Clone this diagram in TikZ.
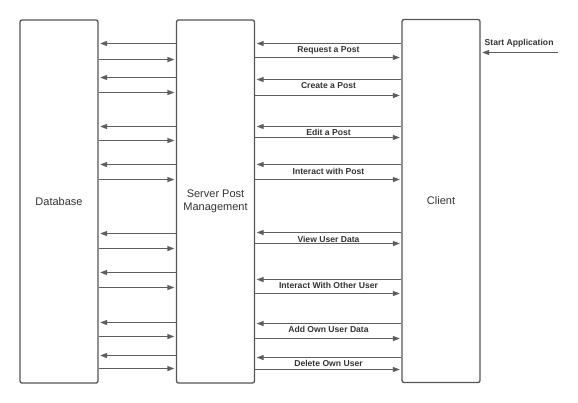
\documentclass[tikz,border=0pt]{standalone}
\usepackage{fontspec}
\setmainfont{Liberation Sans}
\usetikzlibrary{arrows.meta}
\definecolor{linec}{HTML}{5E5E5E}
\definecolor{boxc}{HTML}{555555}
\definecolor{txtc}{HTML}{333333}
\begin{document}
\begin{tikzpicture}[x=1pt,y=-1pt,
  lane/.style={draw=boxc,line width=1.3pt,rounded corners=2pt,minimum width=78pt,minimum height=363pt,inner sep=0pt,text=txtc,font=\fontsize{11}{13}\selectfont,align=center},
  arr/.style={draw=linec,line width=1.3pt,-{Triangle[length=7pt,width=5pt]},shorten >=1.5pt},
  lbl/.style={font=\bfseries\fontsize{8.6}{10}\selectfont,text=txtc,inner sep=0pt}]
\useasboundingbox (0,0) rectangle (578,402);
\node[lane] (db) at (59,201.5) {Database};
\node[lane] (srv) at (215.5,201.5) {Server Post\\Management};
\node[lane] (cl) at (441,201) {Client};
% DB <-> Server
\foreach \ya/\yb in {43.5/59.5,77.5/92.5,126.5/140.5,164.5/179.5,233.5/248.5,272.5/287.5,322.5/336.5,355.5/368.5}{
  \draw[arr] (srv.west |- 0,\ya) -- (db.east |- 0,\ya);
  \draw[arr] (db.east |- 0,\yb) -- (srv.west |- 0,\yb);
}
% Server <-> Client
\foreach \ya/\yb in {43.5/57.5,79.5/95.5,126.5/137.5,164.5/179.5,232.5/243.5,279.5/293.5,323.5/338.5,357.5/369.5}{
  \draw[arr] (cl.west |- 0,\ya) -- (srv.east |- 0,\ya);
  \draw[arr] (srv.east |- 0,\yb) -- (cl.west |- 0,\yb);
}
\node[lbl] (l1) at (328.5,50) {Request a Post};
\node[lbl] (l2) at (328.5,85.7) {Create a Post};
\node[lbl] (l3) at (328.5,132) {Edit a Post};
\node[lbl] (l4) at (328.5,171.7) {Interact with Post};
\node[lbl] (l5) at (328.5,239) {View User Data};
\node[lbl] (l6) at (328.5,285.7) {Interact With Other User};
\node[lbl] (l7) at (328.5,329.3) {Add Own User Data};
\node[lbl] (l8) at (328.5,363.3) {Delete Own User};
\coordinate (start) at (558,52.5);
\draw[arr] (start) -- (cl.east |- start);
\node[lbl,anchor=west] (sa) at (484.5,43.7) {Start Application};
\end{tikzpicture}
\end{document}
